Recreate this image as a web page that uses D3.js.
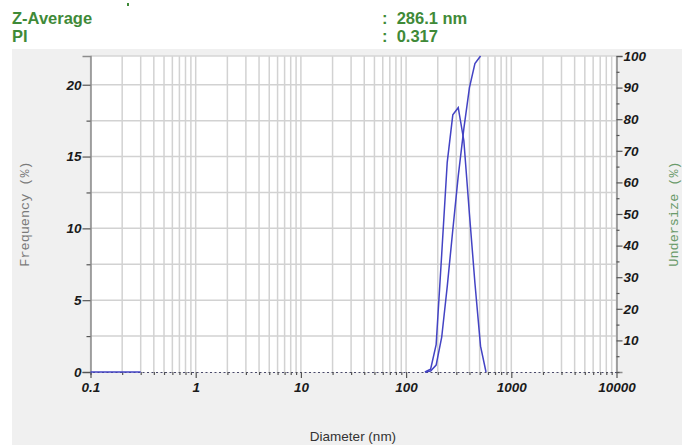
<!DOCTYPE html>
<html>
<head>
<meta charset="utf-8">
<script src="https://cdn.jsdelivr.net/npm/d3@7"></script>
<style>
  html, body { margin: 0; padding: 0; background: #fff; }
  svg { display: block; }
</style>
</head>
<body>
<svg id="chart" width="682" height="445"></svg>
<script>
// size bins (nm) and the two distributions
const sizes = [151, 171, 193, 218, 246, 278, 313, 354, 400, 451, 510, 575];
const frequency = [0, 0.2, 1.9, 8.2, 14.6, 17.9, 18.4, 16.1, 11.0, 6.2, 1.8, 0];
const undersize = [0, 0.3, 2.2, 11.0, 27.0, 45.0, 62.0, 77.0, 90.0, 97.6, 100];
// short solid piece drawn at the left end of the baseline
const leadSizes = [0.1, 0.3];
const leadValues = [0, 0];

const decadeLabels = [0.1, 1, 10, 100, 1000, 10000];
const leftMajor = [0, 5, 10, 15, 20];
const leftMinor = [2.5, 7.5, 12.5, 17.5];
const rightMajor = [10, 20, 30, 40, 50, 60, 70, 80, 90, 100];
const rightMinor = [0, 5, 15, 25, 35, 45, 55, 65, 75, 85, 95];

const header = [
  { label: "Z-Average", value: ":  286.1 nm" },
  { label: "PI", value: ":  0.317" }
];

const svg = d3.select("#chart");
const W = 682, H = 445;
const plot = { left: 90.5, right: 616.5, top: 56, bottom: 372 };
const green = "#3f8a38";
const lineColor = "#4343c4";
const gridColor = "#d2d2d2";

// grey panel under the header
svg.append("rect").attr("x", 12).attr("y", 49).attr("width", W - 12).attr("height", H - 49)
  .attr("fill", "#f0f0f0");

const x = d3.scaleLog().domain([0.1, 10000]).range([plot.left, plot.right]);
const yL = d3.scaleLinear().domain([0, 22]).range([plot.bottom, plot.top]);
const yR = d3.scaleLinear().domain([0, 100]).range([plot.bottom, plot.top]);

// header text
header.forEach((h, i) => {
  svg.append("text").attr("x", 12).attr("y", 24 + i * 18)
    .attr("font-family", "Arial, 'Liberation Sans', sans-serif").attr("font-size", 16.5)
    .attr("font-weight", "bold").attr("fill", green).text(h.label);
  svg.append("text").attr("x", 382).attr("y", 24 + i * 18)
    .attr("font-family", "Arial, 'Liberation Sans', sans-serif").attr("font-size", 16.5)
    .attr("font-weight", "bold").attr("fill", green).attr("xml:space", "preserve").text(h.value);
});
svg.append("rect").attr("x", 127).attr("y", 3).attr("width", 2).attr("height", 3).attr("fill", green);

// plot background
svg.append("rect").attr("x", plot.left).attr("y", plot.top)
  .attr("width", plot.right - plot.left).attr("height", plot.bottom - plot.top)
  .attr("fill", "#fff");

// vertical grid: every 1..9 in each decade
const logTicks = [];
for (let e = -1; e <= 4; e++) {
  for (let m = 1; m <= 9; m++) {
    const v = m * Math.pow(10, e);
    if (v <= 10000) logTicks.push(+v.toPrecision(3));
  }
}
svg.append("g").selectAll("line").data(logTicks).join("line")
  .attr("x1", d => x(d)).attr("x2", d => x(d))
  .attr("y1", plot.top).attr("y2", plot.bottom)
  .attr("stroke", gridColor).attr("stroke-width", 1.5);

// horizontal grid every 2.5 on the left scale
const hGrid = d3.range(2.5, 22, 2.5);
svg.append("g").selectAll("line").data(hGrid).join("line")
  .attr("x1", plot.left).attr("x2", plot.right)
  .attr("y1", d => yL(d)).attr("y2", d => yL(d))
  .attr("stroke", gridColor).attr("stroke-width", 1.5);

// top border
svg.append("line").attr("x1", plot.left).attr("x2", plot.right)
  .attr("y1", plot.top).attr("y2", plot.top).attr("stroke", "#d6d6d6").attr("stroke-width", 1.5);

const tickFont = "Arial, 'Liberation Sans', sans-serif";

// left axis
const gL = svg.append("g").attr("transform", `translate(${plot.left},0)`);
gL.call(d3.axisLeft(yL).tickValues(leftMajor).tickSize(8).tickPadding(1).tickFormat(d3.format("d")));
gL.append("g").call(d3.axisLeft(yL).tickValues(leftMinor).tickSize(4).tickFormat(""))
  .select(".domain").remove();

// right axis
const gR = svg.append("g").attr("transform", `translate(${plot.right},0)`);
gR.call(d3.axisRight(yR).tickValues(rightMajor).tickSize(6).tickPadding(1).tickFormat(d3.format("d")));
gR.append("g").call(d3.axisRight(yR).tickValues(rightMinor).tickSize(3).tickFormat(""))
  .select(".domain").remove();

// bottom axis
const gB = svg.append("g").attr("transform", `translate(0,${plot.bottom})`);
gB.call(d3.axisBottom(x).tickValues(logTicks).tickSize(3).tickPadding(5)
  .tickFormat(d => decadeLabels.includes(d) ? d3.format("~g")(d) : ""));
gB.selectAll(".tick line").filter(d => decadeLabels.includes(d)).attr("y2", 6);

[gL, gR].forEach(g => {
  g.select(".domain").attr("stroke", "#8c8c8c").attr("stroke-width", 1.5);
});
gB.select(".domain").attr("stroke", "#4a4a6a").attr("stroke-width", 1.2).attr("stroke-dasharray", "2,2.5");
svg.selectAll(".tick line").attr("stroke", "#555").attr("stroke-width", 1.2);
svg.selectAll(".tick text").attr("font-family", tickFont).attr("font-size", 13.5)
  .attr("font-weight", "bold").attr("font-style", "italic").attr("fill", "#1a1a1a");
gB.selectAll(".tick text").attr("dy", "0.9em");

// curves
const lineL = d3.line().x(d => x(d[0])).y(d => yL(d[1]));
const lineR = d3.line().x(d => x(d[0])).y(d => yR(d[1]));

svg.append("path").datum(d3.zip(leadSizes, leadValues)).attr("d", lineL)
  .attr("fill", "none").attr("stroke", lineColor).attr("stroke-width", 1.5);
svg.append("path").datum(d3.zip(sizes, frequency)).attr("d", lineL)
  .attr("fill", "none").attr("stroke", lineColor).attr("stroke-width", 1.5);
svg.append("path").datum(d3.zip(sizes.slice(0, undersize.length), undersize)).attr("d", lineR)
  .attr("fill", "none").attr("stroke", lineColor).attr("stroke-width", 1.5);

// axis titles
const monoFont = "'Courier New', 'Liberation Mono', monospace";
svg.append("text").attr("transform", `translate(29,${(plot.top + plot.bottom) / 2}) rotate(-90)`)
  .attr("text-anchor", "middle").attr("font-family", monoFont).attr("font-size", 13.5)
  .attr("fill", "#7a7a7a").text("Frequency (%)");
svg.append("text").attr("transform", `translate(678,${(plot.top + plot.bottom) / 2}) rotate(-90)`)
  .attr("text-anchor", "middle").attr("font-family", monoFont).attr("font-size", 13.5)
  .attr("fill", "#6a9a6a").text("Undersize (%)");
svg.append("text").attr("x", 353).attr("y", 441)
  .attr("text-anchor", "middle").attr("font-family", tickFont).attr("font-size", 13.5)
  .attr("fill", "#333").text("Diameter (nm)");
</script>
</body>
</html>
